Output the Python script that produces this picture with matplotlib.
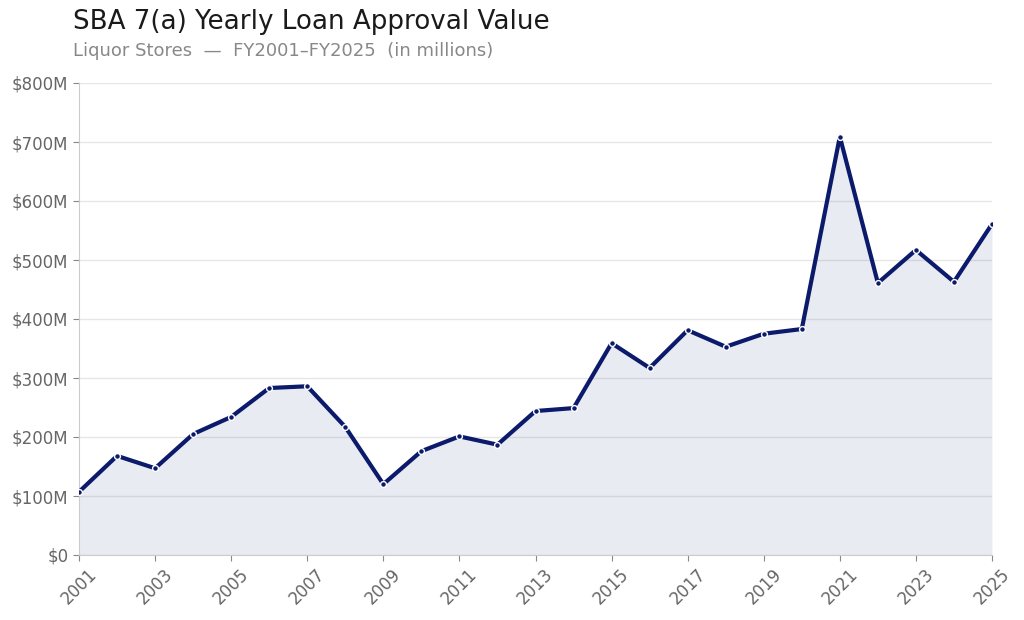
import matplotlib
matplotlib.use("Agg")
import matplotlib.pyplot as plt
from matplotlib.ticker import FuncFormatter

# fiscal years and approval value ($M)
years = list(range(2001, 2026))
values = [107, 168, 147, 205, 234, 283, 286, 217, 120, 176,
          201, 187, 244, 249, 359, 317, 381, 353, 375, 383,
          709, 461, 517, 463, 561]
tick_years = list(range(2001, 2026, 2))

line_color = "#0b1a6b"

fig = plt.figure(figsize=(10.24, 6.2), dpi=100)
ax = fig.add_axes([79 / 1024, 1 - 555 / 620, (992 - 79) / 1024, (555 - 83) / 620])

ax.fill_between(years, values, 0, color=line_color, alpha=0.085, linewidth=0)
ax.plot(years, values, color=line_color, linewidth=3, marker="o", ms=4.2,
        mfc=line_color, mec="white", mew=1.0, zorder=3)

ax.set_xlim(2001, 2025)
ax.set_ylim(0, 800)
ax.set_xticks(tick_years)
ax.set_xticklabels([str(y) for y in tick_years], rotation=45, fontsize=12, color="#666666")
ax.set_yticks(range(0, 801, 100))
ax.yaxis.set_major_formatter(FuncFormatter(lambda v, p: "$0" if v == 0 else f"${int(v)}M"))
ax.tick_params(axis="y", labelsize=12, labelcolor="#666666")
ax.tick_params(axis="both", color="#888888", length=4)
ax.grid(axis="y", color="#e6e6e6", linewidth=1)
ax.set_axisbelow(True)
for s in ["top", "right"]:
    ax.spines[s].set_visible(False)
for s in ["left", "bottom"]:
    ax.spines[s].set_color("#cccccc")

fig.text(73 / 1024, 1 - 22 / 620, "SBA 7(a) Yearly Loan Approval Value", fontsize=18.8,
         color="#1a1a1a", va="center", ha="left")
fig.text(73 / 1024, 1 - 51 / 620, "Liquor Stores  \u2014  FY2001\u2013FY2025  (in millions)",
         fontsize=13, color="#888888", va="center", ha="left")

fig.savefig("out.png", dpi=100)
